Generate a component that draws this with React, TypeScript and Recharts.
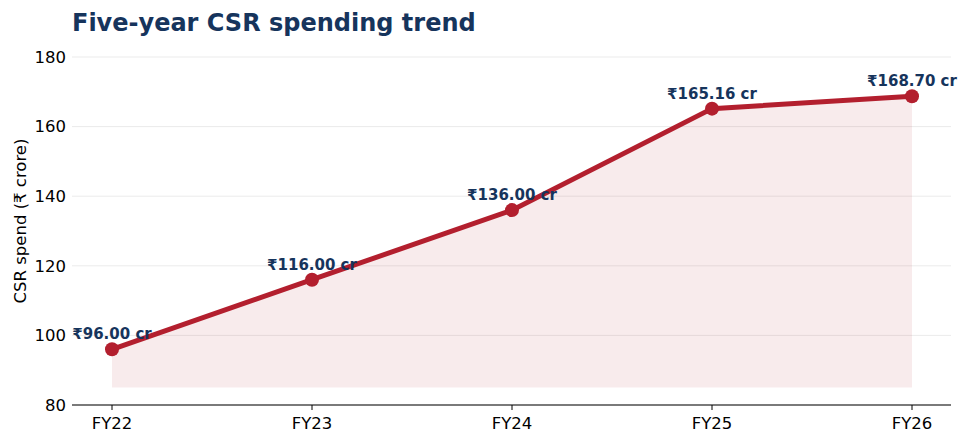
import React from "react";
import { ComposedChart, Line, Area, XAxis, YAxis, CartesianGrid, LabelList } from "recharts";

const years = ["FY22", "FY23", "FY24", "FY25", "FY26"];
const spend = [96.0, 116.0, 136.0, 165.16, 168.7];
const yTicks = [80, 100, 120, 140, 160, 180];

const data = years.map((year, i) => ({ year, spend: spend[i] }));

const FONT = "'DejaVu Sans', sans-serif";
const RED = "#b31f2e";
const NAVY = "#16345c";

const ValueLabel = (props: any) => {
  const { x, y, value } = props;
  return (
    <text x={x} y={y - 10} textAnchor="middle" fontFamily={FONT} fontSize={15} fontWeight="bold" fill={NAVY}>
      {`₹${Number(value).toFixed(2)} cr`}
    </text>
  );
};

// axis title sits a little above the plot centre, like the original
const YLabel = () => (
  <text
    x={20}
    y={221}
    transform="rotate(-90, 20, 221)"
    textAnchor="middle"
    dominantBaseline="central"
    fontFamily={FONT}
    fontSize={16.5}
    fill="#000"
  >
    CSR spend (₹ crore)
  </text>
);

export default function App() {
  return (
    <div style={{ position: "absolute", left: 0, top: 0, width: 968, height: 444, background: "#fff" }}>
      <div
        style={{
          position: "absolute",
          left: 72,
          top: 9,
          fontFamily: FONT,
          fontWeight: "bold",
          fontSize: 24,
          color: NAVY,
          whiteSpace: "nowrap",
        }}
      >
        Five-year CSR spending trend
      </div>
      <ComposedChart width={968} height={444} data={data} margin={{ top: 57, right: 17, bottom: 0, left: 0 }}>
        <CartesianGrid horizontal vertical={false} stroke="#ebebeb" strokeWidth={1} />
        <XAxis
          dataKey="year"
          height={39}
          padding={{ left: 40, right: 39 }}
          axisLine={{ stroke: "#000", strokeWidth: 1.2 }}
          tickLine={{ stroke: "#000" }}
          tickSize={5}
          tickMargin={7}
          tick={{ fontFamily: FONT, fontSize: 16.5, fill: "#000" }}
        />
        <YAxis
          width={72}
          domain={[80, 180]}
          ticks={yTicks}
          axisLine={false}
          tickLine={false}
          tickSize={0}
          tickMargin={6}
          tick={{ fontFamily: FONT, fontSize: 16.5, fill: "#000" }}
          label={<YLabel />}
        />
        <Area
          dataKey="spend"
          baseValue={85}
          type="linear"
          fill={RED}
          fillOpacity={0.09}
          stroke="none"
          isAnimationActive={false}
        />
        <Line
          dataKey="spend"
          type="linear"
          stroke={RED}
          strokeWidth={5}
          dot={{ r: 7, fill: RED, stroke: RED, strokeWidth: 0 }}
          activeDot={false}
          isAnimationActive={false}
        >
          <LabelList dataKey="spend" content={<ValueLabel />} />
        </Line>
      </ComposedChart>
    </div>
  );
}
